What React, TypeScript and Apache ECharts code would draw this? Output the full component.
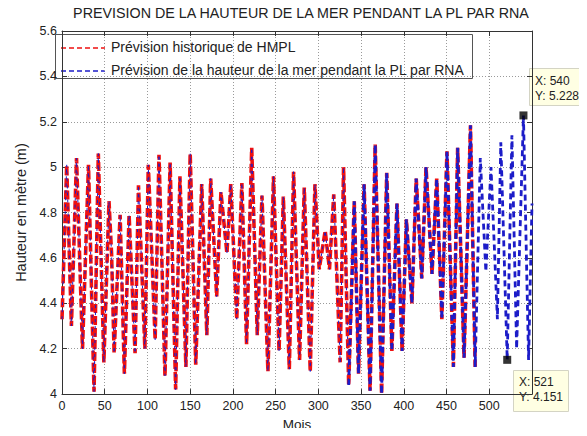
import React, { useEffect, useRef } from "react";
import * as echarts from "echarts";

const titleText = "PREVISION DE LA HAUTEUR DE LA MER PENDANT LA PL PAR RNA";
const legendNames = ["Prévision historique de HMPL", "Prévision de la hauteur de la mer pendant la PL par RNA"];

// historical (red) series: months and heights (m)
const histMonths = [
  0, 5.5, 11, 17, 24, 31, 37.5, 42.5, 49, 55,
  58, 61, 68, 73, 78.5, 85.5, 89.5, 97, 101, 109,
  113.5, 120.5, 126.5, 133, 138, 145, 150, 156.5, 163.5, 169.5,
  174, 181, 186, 193, 197.5, 204.5, 210.5, 216, 222, 228.5,
  234, 241, 247.5, 254, 259, 266, 271, 278, 283.5, 290.5,
  296, 301, 308, 313, 318, 325.5, 329.5, 335.5, 342, 347,
  353.5, 360.5, 366.5, 374, 380, 386, 392, 398, 403, 409.5,
  414.5, 421, 426, 433, 438.5, 444.5, 450.5, 458, 463, 470.5,
  478, 483.5,
];
const histHeights = [
  4.33, 5.01, 4.30, 5.04, 4.20, 5.01, 4.01, 5.06, 4.14, 4.85,
  4.62, 4.18, 4.79, 4.09, 4.79, 4.18, 4.92, 4.20, 5.01, 4.24,
  5.055, 4.08, 5.02, 4.02, 4.96, 4.12, 5.06, 4.13, 4.925, 4.26,
  4.95, 4.43, 4.89, 4.62, 4.925, 4.33, 4.93, 4.22, 5.085, 4.26,
  4.875, 4.10, 4.96, 4.19, 4.87, 4.11, 4.98, 4.15, 4.91, 4.10,
  4.925, 4.55, 4.72, 4.55, 4.88, 4.14, 5.00, 4.04, 4.85, 4.09,
  4.925, 4.015, 5.10, 4.00, 4.975, 4.19, 4.84, 4.19, 4.77, 4.40,
  4.95, 4.51, 5.00, 4.53, 4.95, 4.33, 5.07, 4.12, 5.085, 4.16,
  5.185, 4.12,
];

// forecast (blue) beyond the historical record
const forecastMonths = [489.5, 496, 502, 509.5, 513.5, 521, 526.5, 532, 540, 546, 550];
const forecastHeights = [5.04, 4.54, 5.00, 4.33, 5.11, 4.151, 5.14, 4.20, 5.228, 4.15, 4.84];

// data tips
const tipMonths = [540, 521];
const tipHeights = [5.228, 4.151];

const blueSplitMonth = 335.5;

const FONT = "'Liberation Sans', Arial, Helvetica, sans-serif";
const RED = "#ee1111";
const BLUE = "#1c1cc8";

export default function App() {
  const ref = useRef<HTMLDivElement>(null);
  useEffect(() => {
    if (!ref.current) return;
    const chart = echarts.init(ref.current, undefined, { renderer: "svg" });
    const hist = histMonths.map((m, i) => [m, histHeights[i]]);
    const fc = forecastMonths.map((m, i) => [m, forecastHeights[i]]);
    const blueA = hist.filter((p) => p[0] <= blueSplitMonth);
    const blueB = hist.filter((p) => p[0] >= blueSplitMonth).concat(fc);
    const tips = tipMonths.map((m, i) => [m, tipHeights[i]]);

    const axisCommon = {
      type: "value" as const,
      axisLine: { show: true, onZero: false, lineStyle: { color: "#333", width: 1 } },
      axisTick: { show: true, inside: true, length: 5, lineStyle: { color: "#333" } },
    };

    chart.setOption({
      animation: false,
      backgroundColor: "#ffffff",
      title: {
        text: titleText,
        left: 296,
        top: 1,
        textAlign: "center",
        textStyle: { fontFamily: FONT, fontSize: 14.3, fontWeight: "normal", color: "#222" },
      },
      grid: { left: 62, right: 55, top: 31, bottom: 36, containLabel: false },
      xAxis: [
        {
          ...axisCommon,
          position: "bottom",
          min: 0,
          max: 550,
          interval: 50,
          name: "Mois",
          nameLocation: "middle",
          nameGap: 21,
          nameTextStyle: { fontFamily: FONT, fontSize: 13.5, color: "#222" },
          axisLabel: {
            fontFamily: FONT,
            fontSize: 12.5,
            color: "#222",
            margin: 5,
            formatter: (v: number) => (v > 500 ? "" : String(v)),
          },
          splitLine: { show: true, lineStyle: { type: [1, 2], color: "#9a9a9a", width: 1 } },
        },
        {
          ...axisCommon,
          position: "top",
          min: 0,
          max: 550,
          interval: 50,
          axisLabel: { show: false },
          splitLine: { show: false },
        },
      ],
      yAxis: [
        {
          ...axisCommon,
          position: "left",
          min: 4,
          max: 5.6,
          interval: 0.2,
          name: "Hauteur en mètre (m)",
          nameLocation: "middle",
          nameGap: 33,
          nameRotate: 90,
          nameTextStyle: { fontFamily: FONT, fontSize: 14.5, color: "#222" },
          axisLabel: { fontFamily: FONT, fontSize: 12.5, color: "#222", margin: 5 },
          splitLine: { show: true, lineStyle: { type: [1, 2], color: "#9a9a9a", width: 1 } },
        },
        {
          ...axisCommon,
          position: "right",
          min: 4,
          max: 5.6,
          interval: 0.2,
          axisLabel: { show: false },
          splitLine: { show: false },
        },
      ],
      series: [
        {
          name: legendNames[0],
          type: "line",
          data: hist,
          showSymbol: false,
          symbol: "none",
          lineStyle: { color: RED, width: 3.6, type: [9, 3] },
          z: 2,
        },
        {
          name: legendNames[1],
          type: "line",
          data: blueA,
          showSymbol: false,
          symbol: "none",
          lineStyle: { color: BLUE, width: 1, type: [3, 4] },
          z: 3,
        },
        {
          name: legendNames[1],
          type: "line",
          data: blueB,
          showSymbol: false,
          symbol: "none",
          lineStyle: { color: BLUE, width: 2.8, type: [6, 4] },
          z: 3,
        },
        {
          type: "scatter",
          data: tips,
          symbol: "rect",
          symbolSize: 8,
          itemStyle: { color: "#000" },
          z: 5,
        },
      ],
      graphic: [
        {
          type: "group",
          z: 100,
          children: [
            {
              type: "rect",
              shape: { x: 55.5, y: 34.5, width: 417, height: 44 },
              style: { fill: "#ffffff", stroke: "#555", lineWidth: 1 },
            },
            {
              type: "line",
              shape: { x1: 61, y1: 48, x2: 105, y2: 48 },
              style: { stroke: RED, lineWidth: 1.6, lineDash: [5, 3] },
            },
            {
              type: "text",
              x: 111,
              y: 47,
              style: { text: legendNames[0], font: `14px ${FONT}`, fill: "#222", verticalAlign: "middle" },
            },
            {
              type: "line",
              shape: { x1: 61, y1: 71, x2: 105, y2: 71 },
              style: { stroke: BLUE, lineWidth: 1.6, lineDash: [5, 3] },
            },
            {
              type: "text",
              x: 111,
              y: 70,
              style: { text: legendNames[1], font: `14px ${FONT}`, fill: "#222", verticalAlign: "middle" },
            },
          ],
        },
        {
          type: "group",
          z: 100,
          children: [
            {
              type: "rect",
              shape: { x: 529.5, y: 68.5, width: 55, height: 37 },
              style: { fill: "#ffffe3", stroke: "#d4d4c4", lineWidth: 1 },
            },
            {
              type: "text",
              x: 535,
              y: 81,
              style: { text: `X: ${tipMonths[0]}`, font: `12px ${FONT}`, fill: "#222", verticalAlign: "middle" },
            },
            {
              type: "text",
              x: 535,
              y: 96,
              style: { text: `Y: ${tipHeights[0]}`, font: `12px ${FONT}`, fill: "#222", verticalAlign: "middle" },
            },
            {
              type: "rect",
              shape: { x: 513.5, y: 370.5, width: 55, height: 41 },
              style: { fill: "#ffffe3", stroke: "#d4d4c4", lineWidth: 1 },
            },
            {
              type: "text",
              x: 519,
              y: 382,
              style: { text: `X: ${tipMonths[1]}`, font: `12px ${FONT}`, fill: "#222", verticalAlign: "middle" },
            },
            {
              type: "text",
              x: 519,
              y: 397,
              style: { text: `Y: ${tipHeights[1]}`, font: `12px ${FONT}`, fill: "#222", verticalAlign: "middle" },
            },
          ],
        },
      ],
    });
    return () => chart.dispose();
  }, []);
  return <div ref={ref} style={{ width: 587, height: 436, margin: -8 }} />;
}
